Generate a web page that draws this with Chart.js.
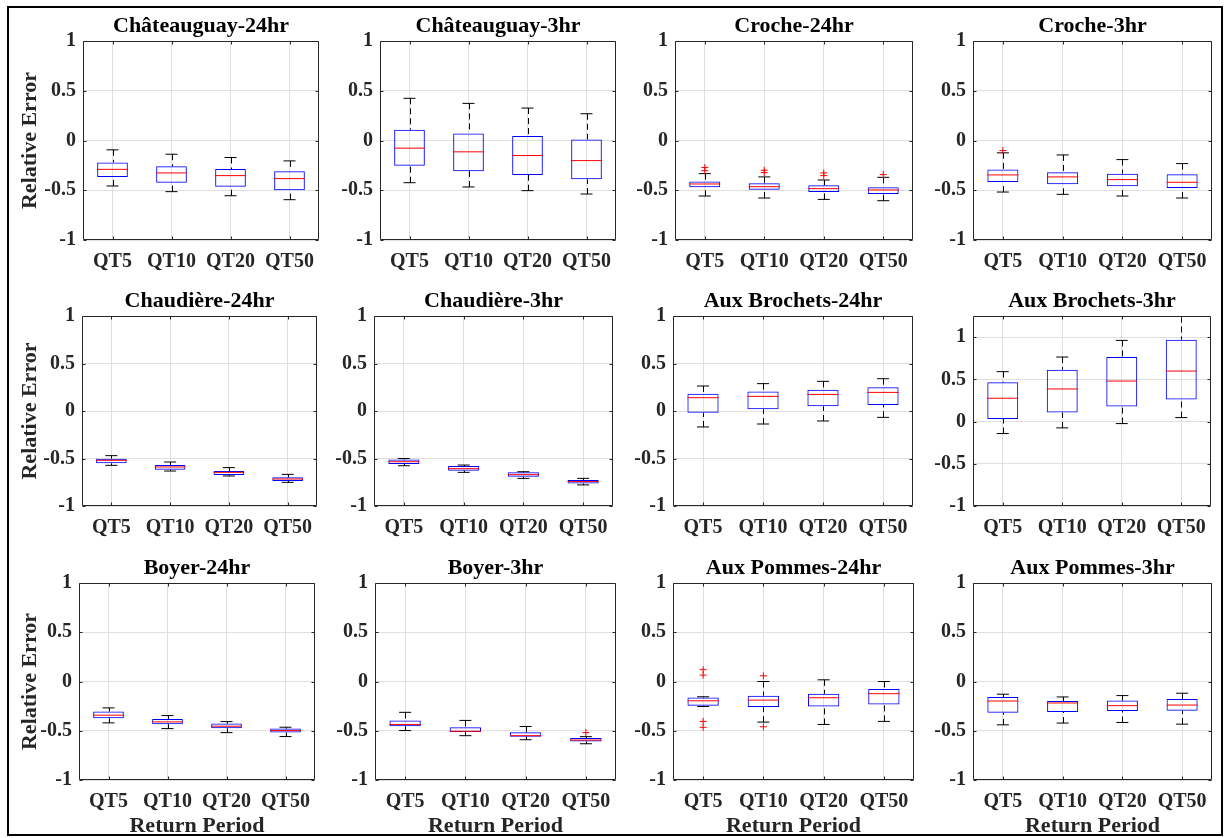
<!DOCTYPE html>
<html>
<head>
<meta charset="utf-8">
<title>Relative Error by Return Period</title>
<script src="https://cdn.jsdelivr.net/npm/chart.js@4"></script>
<style>
  body { margin: 0; background: #fff; }
  #fig { position: relative; width: 1227px; height: 838px; overflow: hidden; background: #fff; }
  #frame { position: absolute; left: 7px; top: 6px; width: 1212px; height: 826px; border: 2px solid #000; }
  #fig canvas { position: absolute; }
</style>
</head>
<body>
<div id="fig"><div id="frame"></div></div>
<script>
const panelTitles = [
  "Châteauguay-24hr", "Châteauguay-3hr", "Croche-24hr", "Croche-3hr",
  "Chaudière-24hr", "Chaudière-3hr", "Aux Brochets-24hr", "Aux Brochets-3hr",
  "Boyer-24hr", "Boyer-3hr", "Aux Pommes-24hr", "Aux Pommes-3hr"
];
const returnPeriods = ["QT5", "QT10", "QT20", "QT50"];
const yTickValues = [-1, -0.5, 0, 0.5, 1];
const yMax = [1, 1, 1, 1, 1, 1, 1, 1.25, 1, 1, 1, 1];

// box statistics per panel, one value per return period
const whiskerLow = [
  [-0.457, -0.514, -0.555, -0.595],
  [-0.424, -0.467, -0.504, -0.538],
  [-0.558, -0.578, -0.592, -0.605],
  [-0.518, -0.541, -0.558, -0.578],
  [-0.572, -0.632, -0.684, -0.751],
  [-0.576, -0.646, -0.709, -0.778],
  [-0.168, -0.137, -0.105, -0.067],
  [-0.142, -0.075, -0.024, 0.047],
  [-0.42, -0.478, -0.519, -0.559],
  [-0.498, -0.55, -0.591, -0.632],
  [-0.254, -0.412, -0.436, -0.405],
  [-0.44, -0.422, -0.416, -0.433]
];
const boxLow = [
  [-0.366, -0.424, -0.464, -0.5],
  [-0.255, -0.309, -0.346, -0.39],
  [-0.47, -0.494, -0.518, -0.538],
  [-0.417, -0.44, -0.46, -0.477],
  [-0.551, -0.618, -0.674, -0.737],
  [-0.558, -0.628, -0.691, -0.764],
  [-0.018, 0.018, 0.049, 0.063],
  [0.031, 0.106, 0.177, 0.26],
  [-0.373, -0.434, -0.475, -0.519],
  [-0.454, -0.512, -0.56, -0.608],
  [-0.247, -0.258, -0.254, -0.234],
  [-0.317, -0.31, -0.3, -0.296]
];
const medians = [
  [-0.29, -0.326, -0.353, -0.383],
  [-0.077, -0.114, -0.151, -0.202],
  [-0.437, -0.464, -0.484, -0.497],
  [-0.346, -0.366, -0.393, -0.42],
  [-0.519, -0.589, -0.646, -0.716],
  [-0.534, -0.607, -0.67, -0.743],
  [0.14, 0.154, 0.175, 0.196],
  [0.276, 0.386, 0.48, 0.598],
  [-0.342, -0.41, -0.454, -0.498],
  [-0.436, -0.505, -0.55, -0.595],
  [-0.196, -0.189, -0.165, -0.124],
  [-0.198, -0.218, -0.245, -0.239]
];
const boxHigh = [
  [-0.22, -0.259, -0.286, -0.309],
  [0.108, 0.071, 0.044, 0.01],
  [-0.413, -0.43, -0.45, -0.47],
  [-0.292, -0.319, -0.333, -0.339],
  [-0.502, -0.568, -0.632, -0.698],
  [-0.51, -0.579, -0.646, -0.726],
  [0.182, 0.204, 0.225, 0.249],
  [0.465, 0.614, 0.764, 0.969],
  [-0.305, -0.38, -0.427, -0.478],
  [-0.395, -0.464, -0.515, -0.574],
  [-0.162, -0.144, -0.124, -0.076],
  [-0.157, -0.198, -0.194, -0.177]
];
const whiskerHigh = [
  [-0.094, -0.138, -0.171, -0.205],
  [0.424, 0.373, 0.326, 0.269],
  [-0.333, -0.366, -0.397, -0.37],
  [-0.124, -0.145, -0.192, -0.232],
  [-0.47, -0.537, -0.596, -0.667],
  [-0.5, -0.569, -0.639, -0.709],
  [0.263, 0.288, 0.312, 0.34],
  [0.591, 0.764, 0.961, 1.244],
  [-0.268, -0.346, -0.407, -0.464],
  [-0.313, -0.395, -0.457, -0.56],
  [-0.155, 0, 0.017, 0],
  [-0.129, -0.157, -0.143, -0.119]
];
const outliers = [
  [[], [], [], []],
  [[], [], [], []],
  [[-0.272, -0.303], [-0.299, -0.323], [-0.326, -0.353], [-0.343]],
  [[-0.101], [], [], []],
  [[], [], [], []],
  [[], [], [], []],
  [[], [], [], []],
  [[], [], [], []],
  [[], [], [], []],
  [[], [], [], [-0.519]],
  [[0.12, 0.065, -0.405, -0.465], [0.058, -0.46], [], []],
  [[], [], [], []]
];

// plot area of every subplot on the page (px)
const rowTop = [41, 316, 583];
const rowBottom = [240, 506, 780];
const colLeft = [[83, 380, 675, 973], [82, 374, 673, 973], [79, 375, 673, 973]];
const colRight = [[322, 619, 916, 1215], [320, 616, 916, 1214], [318, 619, 917, 1215]];
const titleH = 28;
const boxFrac = 0.52;

Chart.defaults.font.family = '"Liberation Serif", "Times New Roman", serif';
Chart.defaults.font.size = 20;
Chart.defaults.font.weight = "bold";
Chart.defaults.color = "#262626";

// dashed whiskers from the box edges out to the caps
const whiskerPlugin = {
  id: "whiskers",
  beforeDatasetsDraw(chart, args, opts) {
    const { ctx, scales: { x, y } } = chart;
    const k = opts.panel;
    ctx.save();
    ctx.strokeStyle = "#000";
    ctx.lineWidth = 1;
    ctx.setLineDash([6, 4]);
    returnPeriods.forEach((p, i) => {
      const px = Math.round(x.getPixelForValue(i)) + 0.5;
      ctx.beginPath();
      ctx.moveTo(px, y.getPixelForValue(whiskerHigh[k][i]));
      ctx.lineTo(px, y.getPixelForValue(boxHigh[k][i]));
      ctx.moveTo(px, y.getPixelForValue(whiskerLow[k][i]));
      ctx.lineTo(px, y.getPixelForValue(boxLow[k][i]));
      ctx.stroke();
    });
    ctx.restore();
  }
};

// axes box with inward tick marks on all four sides
const framePlugin = {
  id: "axesFrame",
  afterDatasetsDraw(chart) {
    const { ctx, chartArea: a, scales: { x, y } } = chart;
    const l = Math.round(a.left) + 0.5, r = Math.round(a.right) - 0.5;
    const t = Math.round(a.top) + 0.5, b = Math.round(a.bottom) - 0.5;
    ctx.save();
    ctx.strokeStyle = "#262626";
    ctx.lineWidth = 1;
    ctx.beginPath();
    ctx.rect(l, t, r - l, b - t);
    x.ticks.forEach((_, i) => {
      const px = Math.round(x.getPixelForTick(i)) + 0.5;
      ctx.moveTo(px, b); ctx.lineTo(px, b - 3);
      ctx.moveTo(px, t); ctx.lineTo(px, t + 3);
    });
    y.ticks.forEach((_, i) => {
      const py = Math.round(y.getPixelForTick(i)) + 0.5;
      ctx.moveTo(l, py); ctx.lineTo(l + 3, py);
      ctx.moveTo(r, py); ctx.lineTo(r - 3, py);
    });
    ctx.stroke();
    ctx.restore();
  }
};

const fig = document.getElementById("fig");

panelTitles.forEach((name, k) => {
  const row = Math.floor(k / 4), col = k % 4;
  const L = colLeft[row][col], R = colRight[row][col];
  const T = rowTop[row], B = rowBottom[row];
  const yw = col === 0 ? L - 10 : 52;
  const xh = row === 2 ? 62 : 34;

  const canvas = document.createElement("canvas");
  canvas.width = yw + (R - L) + 4;
  canvas.height = titleH + (B - T) + xh;
  canvas.style.left = (L - yw) + "px";
  canvas.style.top = (T - titleH) + "px";
  canvas.style.width = canvas.width + "px";
  canvas.style.height = canvas.height + "px";
  fig.appendChild(canvas);

  const capPoints = returnPeriods.flatMap((p, i) => [
    { x: p, y: whiskerLow[k][i] },
    { x: p, y: whiskerHigh[k][i] }
  ]);
  const outlierPoints = returnPeriods.flatMap((p, i) =>
    outliers[k][i].map(v => ({ x: p, y: v }))
  );
  const halfBox = ctx => ctx.chart.scales.x.width / returnPeriods.length * boxFrac / 2;

  new Chart(canvas.getContext("2d"), {
    type: "bar",
    data: {
      labels: returnPeriods,
      datasets: [
        {
          data: returnPeriods.map((p, i) => [boxLow[k][i], boxHigh[k][i]]),
          backgroundColor: "rgba(0,0,0,0)",
          borderColor: "#0000ff",
          borderWidth: 1,
          borderSkipped: false,
          barPercentage: boxFrac,
          categoryPercentage: 1,
          order: 3
        },
        {
          type: "line",
          data: capPoints,
          showLine: false,
          pointStyle: "line",
          pointRadius: 6,
          pointBorderWidth: 1,
          borderColor: "#000",
          pointBorderColor: "#000",
          order: 2
        },
        {
          type: "line",
          data: medians[k],
          showLine: false,
          pointStyle: "line",
          pointRadius: halfBox,
          pointBorderWidth: 1,
          borderColor: "#ff0000",
          pointBorderColor: "#ff0000",
          order: 1
        },
        {
          type: "line",
          data: outlierPoints,
          showLine: false,
          pointStyle: "cross",
          pointRadius: 3.5,
          pointBorderWidth: 1,
          borderColor: "#ff0000",
          pointBorderColor: "#ff0000",
          order: 0
        }
      ]
    },
    options: {
      responsive: false,
      maintainAspectRatio: false,
      animation: false,
      events: [],
      layout: { padding: { left: 0, right: 4, top: 0, bottom: 0 } },
      plugins: {
        legend: { display: false },
        tooltip: { enabled: false },
        title: {
          display: true,
          text: name,
          color: "#000",
          fullSize: false,
          font: { size: 22, weight: "bold", lineHeight: 1.2 },
          padding: { top: 0, bottom: 1.6 }
        },
        whiskers: { panel: k }
      },
      scales: {
        x: {
          offset: true,
          grid: { offset: false, color: "#dfdfdf", drawTicks: false },
          border: { display: false },
          ticks: { padding: 10, maxRotation: 0, autoSkip: false, font: { size: 20, weight: "bold" } },
          title: {
            display: row === 2,
            text: "Return Period",
            font: { size: 22, weight: "bold" },
            padding: { top: 0, bottom: 2 }
          },
          afterFit: s => { s.height = xh; }
        },
        y: {
          min: -1,
          max: yMax[k],
          grid: { color: "#dfdfdf", drawTicks: false },
          border: { display: false },
          ticks: { padding: 7, font: { size: 20, weight: "bold" }, callback: v => String(v) },
          afterBuildTicks: s => { s.ticks = yTickValues.map(v => ({ value: v })); },
          title: {
            display: col === 0,
            text: "Relative Error",
            font: { size: 22, weight: "bold" },
            padding: { top: 7, bottom: 0 }
          },
          afterFit: s => { s.width = yw; }
        }
      }
    },
    plugins: [whiskerPlugin, framePlugin]
  });
});
</script>
</body>
</html>
